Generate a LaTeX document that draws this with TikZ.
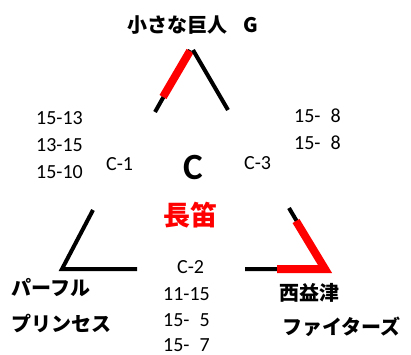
\documentclass[tikz,border=0pt]{standalone}
\usepackage{fontspec}
\setmainfont{Carlito}
\newfontfamily\jp{Noto Sans CJK JP}
\begin{document}
\begin{tikzpicture}[x=1pt,y=-1pt,
  txt/.style={inner sep=0pt,font=\fontsize{20}{24}\selectfont},
  jptxt/.style={inner sep=0pt,font=\fontsize{20}{24}\selectfont\jp\bfseries},
  blk/.style={line width=4pt,black,line cap=butt,line join=miter},
  redl/.style={line width=8pt,red,line cap=butt,line join=miter}]
\useasboundingbox (0,0) rectangle (411,354);
% coordinates
\coordinate (tl) at (155,112);
\coordinate (ta) at (190,50);
\coordinate (ta2) at (190,51);
\coordinate (tr0) at (193,50);
\coordinate (tr) at (228,110);
\coordinate (tred) at (163,97);
\coordinate (blt) at (93,210);
\coordinate (blc) at (62,269);
\coordinate (blr) at (137,269);
\coordinate (brt) at (289,208);
\coordinate (brred) at (296,221);
\coordinate (brc) at (325,269);
\coordinate (brl) at (245,269);
\coordinate (brredl) at (277,269);
% lines
\draw[blk] (tl) -- (ta);
\draw[redl] (tred) -- (ta2);
\draw[blk] (tr0) -- (tr);
\draw[blk] (blt) -- (blc) -- (blr);
\draw[blk] (brt) -- (brc) -- (brl);
\draw[redl] (brred) -- (brc) -- (brredl);
% texts
\node[jptxt] (g) at (193,25) {小さな巨人\hspace{16pt}G};
\node[txt,anchor=west] (a1) at (36,118) {15-13};
\node[txt,anchor=west] (a2) at (36,145) {13-15};
\node[txt,anchor=west] (a3) at (36,172) {15-10};
\node[txt,anchor=west] (c1) at (106,164) {C-1};
\node[inner sep=0pt,font=\fontsize{37}{40}\selectfont\bfseries] (c) at (193,167) {C};
\node[txt,anchor=west] (c3) at (244,163) {C-3};
\node[txt,anchor=west] (b1) at (294,116) {15-\hspace{10pt}8};
\node[txt,anchor=west] (b2) at (294,143) {15-\hspace{10pt}8};
\node[inner sep=0pt,red,font=\fontsize{27}{30}\selectfont\jp\bfseries] (ch) at (190,215) {長笛};
\node[txt,anchor=west] (c2) at (177,267) {C-2};
\node[txt,anchor=west] (d1) at (163,294) {11-15};
\node[txt,anchor=west] (d2) at (163,320) {15-\hspace{10pt}5};
\node[txt,anchor=west] (d3) at (163,345) {15-\hspace{10pt}7};
\node[jptxt,anchor=west] (p1) at (11,288) {パーフル};
\node[jptxt,anchor=west] (p2) at (11,323) {プリンセス};
\node[jptxt,anchor=west] (n1) at (279,293) {西益津};
\node[jptxt,anchor=west] (n2) at (282,327) {ファイターズ};
\end{tikzpicture}
\end{document}
